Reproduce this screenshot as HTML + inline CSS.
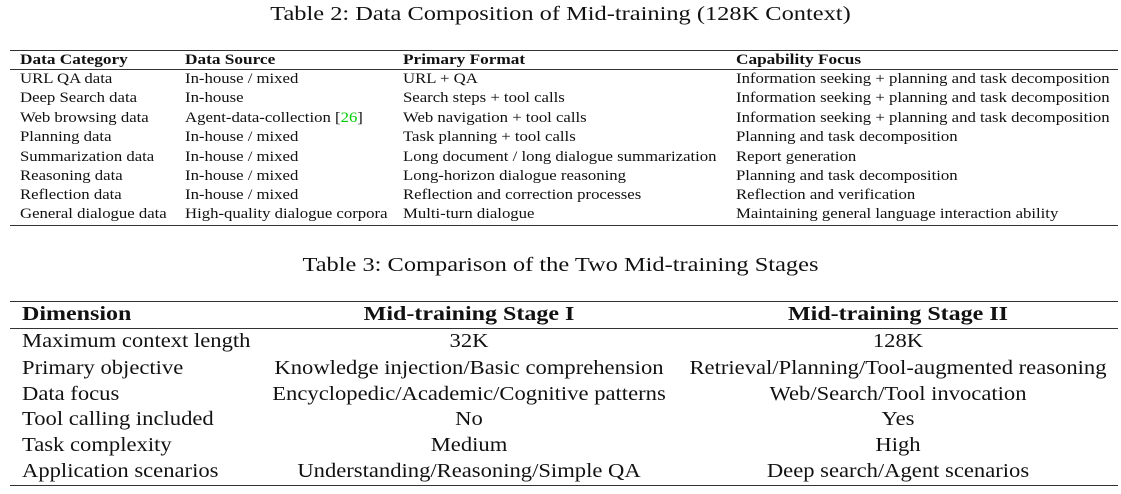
<!DOCTYPE html>
<html><head><meta charset="utf-8"><style>
body{margin:0;width:1121px;height:494px;background:#fff;position:relative;overflow:hidden;font-family:"Liberation Serif",serif;color:#111}
.a{position:absolute;white-space:nowrap;line-height:1;transform-origin:0 50%}
.t2 .a{font-size:15px;transform:scaleX(1.115)}
.t2 .a.b{transform:scaleX(1.15)}
.t3 .a{font-size:20px;transform:scaleX(1.13)}
.t3 .a.b{transform:scaleX(1.2)}
.t3 .a.c{transform-origin:50% 50%;transform:translateX(-50%) scaleX(1.13)}
.t3 .a.b.c{transform:translateX(-50%) scaleX(1.2)}
.ti{position:absolute;left:0;width:1121px;text-align:center;font-size:20px;line-height:1;transform:scaleX(1.22);transform-origin:50% 50%;white-space:nowrap}
.r{position:absolute;left:10px;width:1108px;background:#333}
.b{font-weight:bold}
</style></head><body>
<div class="ti" style="top:4px">Table 2: Data Composition of Mid-training (128K Context)</div>
<div class="r" style="top:50px;height:1.3px"></div>
<div class="r" style="top:69px;height:0.9px"></div>
<div class="r" style="top:224.5px;height:1.3px"></div>
<div class="t2">
<div class="a b" style="left:20px;top:52.5px">Data Category</div><div class="a b" style="left:185px;top:52.5px">Data Source</div><div class="a b" style="left:403px;top:52.5px">Primary Format</div><div class="a b" style="left:736px;top:52.5px">Capability Focus</div>
<div class="a" style="left:20px;top:71.5px">URL QA data</div><div class="a" style="left:185px;top:71.5px">In-house / mixed</div><div class="a" style="left:403px;top:71.5px">URL + QA</div><div class="a" style="left:736px;top:71.5px">Information seeking + planning and task decomposition</div>
<div class="a" style="left:20px;top:91px">Deep Search data</div><div class="a" style="left:185px;top:91px">In-house</div><div class="a" style="left:403px;top:91px">Search steps + tool calls</div><div class="a" style="left:736px;top:91px">Information seeking + planning and task decomposition</div>
<div class="a" style="left:20px;top:110.5px">Web browsing data</div><div class="a" style="left:185px;top:110.5px">Agent-data-collection [<span style="color:#0c0">26</span>]</div><div class="a" style="left:403px;top:110.5px">Web navigation + tool calls</div><div class="a" style="left:736px;top:110.5px">Information seeking + planning and task decomposition</div>
<div class="a" style="left:20px;top:129.5px">Planning data</div><div class="a" style="left:185px;top:129.5px">In-house / mixed</div><div class="a" style="left:403px;top:129.5px">Task planning + tool calls</div><div class="a" style="left:736px;top:129.5px">Planning and task decomposition</div>
<div class="a" style="left:20px;top:149.5px">Summarization data</div><div class="a" style="left:185px;top:149.5px">In-house / mixed</div><div class="a" style="left:403px;top:149.5px">Long document / long dialogue summarization</div><div class="a" style="left:736px;top:149.5px">Report generation</div>
<div class="a" style="left:20px;top:168.5px">Reasoning data</div><div class="a" style="left:185px;top:168.5px">In-house / mixed</div><div class="a" style="left:403px;top:168.5px">Long-horizon dialogue reasoning</div><div class="a" style="left:736px;top:168.5px">Planning and task decomposition</div>
<div class="a" style="left:20px;top:187.5px">Reflection data</div><div class="a" style="left:185px;top:187.5px">In-house / mixed</div><div class="a" style="left:403px;top:187.5px">Reflection and correction processes</div><div class="a" style="left:736px;top:187.5px">Reflection and verification</div>
<div class="a" style="left:20px;top:207px">General dialogue data</div><div class="a" style="left:185px;top:207px">High-quality dialogue corpora</div><div class="a" style="left:403px;top:207px">Multi-turn dialogue</div><div class="a" style="left:736px;top:207px">Maintaining general language interaction ability</div>
</div>
<div class="ti" style="top:255px">Table 3: Comparison of the Two Mid-training Stages</div>
<div class="r" style="top:300.5px;height:1.3px"></div>
<div class="r" style="top:327.5px;height:0.9px"></div>
<div class="r" style="top:484.5px;height:1.3px"></div>
<div class="t3">
<div class="a b" style="left:22px;top:304px">Dimension</div><div class="a b c" style="left:469px;top:304px">Mid-training Stage I</div><div class="a b c" style="left:898px;top:304px">Mid-training Stage II</div>
<div class="a" style="left:22px;top:331px">Maximum context length</div><div class="a c" style="left:469px;top:331px">32K</div><div class="a c" style="left:898px;top:331px">128K</div>
<div class="a" style="left:22px;top:358px">Primary objective</div><div class="a c" style="left:469px;top:358px">Knowledge injection/Basic comprehension</div><div class="a c" style="left:898px;top:358px">Retrieval/Planning/Tool-augmented reasoning</div>
<div class="a" style="left:22px;top:384px">Data focus</div><div class="a c" style="left:469px;top:384px">Encyclopedic/Academic/Cognitive patterns</div><div class="a c" style="left:898px;top:384px">Web/Search/Tool invocation</div>
<div class="a" style="left:22px;top:409px">Tool calling included</div><div class="a c" style="left:469px;top:409px">No</div><div class="a c" style="left:898px;top:409px">Yes</div>
<div class="a" style="left:22px;top:435px">Task complexity</div><div class="a c" style="left:469px;top:435px">Medium</div><div class="a c" style="left:898px;top:435px">High</div>
<div class="a" style="left:22px;top:461px">Application scenarios</div><div class="a c" style="left:469px;top:461px">Understanding/Reasoning/Simple QA</div><div class="a c" style="left:898px;top:461px">Deep search/Agent scenarios</div>
</div>
</body></html>
